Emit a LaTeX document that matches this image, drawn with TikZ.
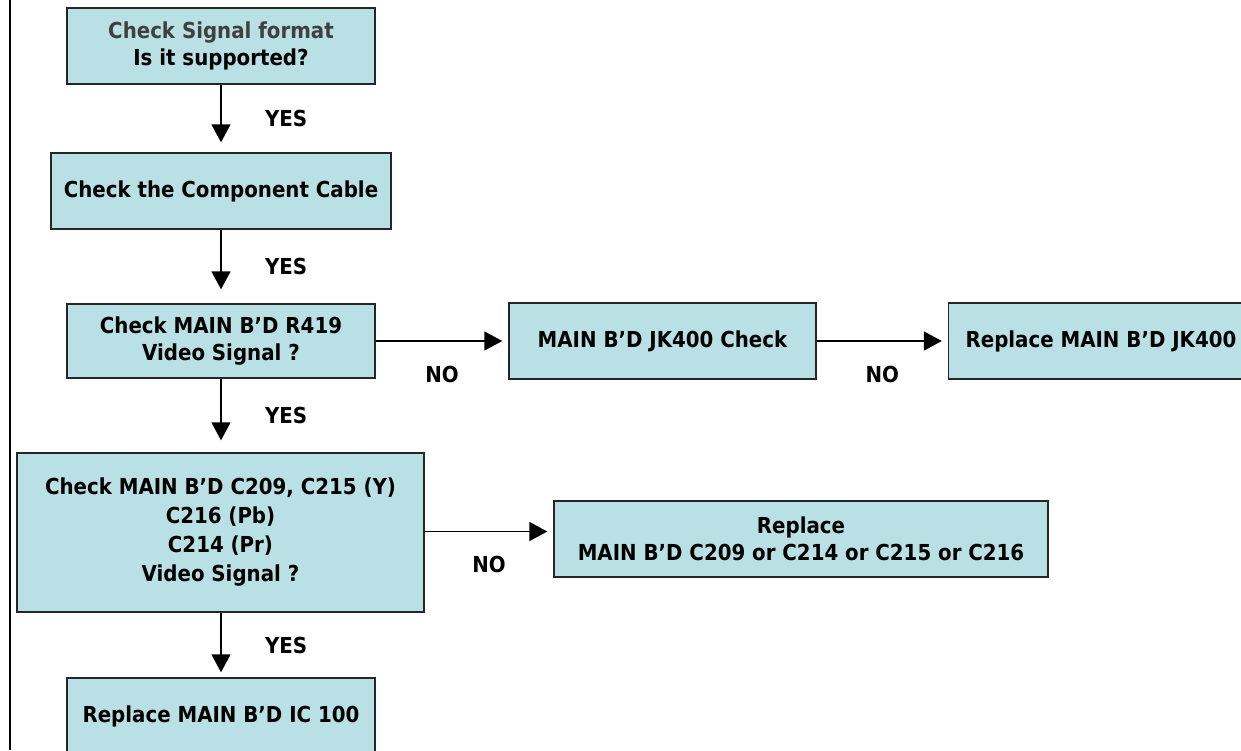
\documentclass[tikz,border=0pt]{standalone}
\usepackage{fontspec}
\setmainfont{DejaVu Sans Condensed}
\usetikzlibrary{arrows.meta,positioning}
\definecolor{boxfill}{RGB}{185,224,228}
\tikzset{
 flowbox/.style={draw=black!85,line width=1.4pt,fill=boxfill,align=center,inner sep=0pt,minimum height=76pt},
 flow/.style={->,line width=1.6pt},
 yes/.style={midway,right=40pt},
 no/.style={midway,below=21pt}
}
\begin{document}
\begin{tikzpicture}[x=1pt,y=-1pt,>={Triangle[length=18pt,width=19pt]},font=\fontsize{22}{27}\selectfont\bfseries]
 \useasboundingbox (0,0) rectangle (1241,750);
 \draw[line width=2pt] (10,0)--(10,750);
 \node[flowbox,minimum width=308pt] (fmt) at (221,46) {\textcolor{black!75}{Check Signal format}\\Is it supported?};
 \node[flowbox,minimum width=340pt] (cable) at (221,191) {Check the Component Cable};
 \node[flowbox,minimum width=308pt,minimum height=74pt] (r419) at (221,341) {Check MAIN B’D R419\\Video Signal ?};
 \node[flowbox,minimum width=307pt] (jkchk) at (662.5,341) {MAIN B’D JK400 Check};
 \node[flowbox,minimum width=305pt] (jkrep) at (1101,341) {Replace MAIN B’D JK400};
 \node[flowbox,minimum width=407pt,minimum height=159pt,font=\fontsize{22}{29}\selectfont\bfseries] (cchk) at (220.5,532.5) {Check MAIN B’D C209, C215 (Y)\\C216 (Pb)\\C214 (Pr)\\Video Signal ?};
 \node[flowbox,minimum width=494pt] (crep) at (801,539) {Replace\\MAIN B’D C209 or C214 or C215 or C216};
 \node[flowbox,minimum width=308pt] (ic) at (221,716) {Replace MAIN B’D IC 100};
 % yes path
 \draw[flow,shorten >=10pt] (fmt)--node[yes]{YES}(cable);
 \draw[flow,shorten >=14pt] (cable)--node[yes]{YES}(r419);
 \draw[flow,shorten >=12pt] (r419.south)--node[yes]{YES}(r419.south |- cchk.north);
 \draw[flow,shorten >=5pt] (ic.north |- cchk.south)--node[yes]{YES}(ic.north);
 % no path
 \draw[flow,shorten >=6pt] (r419)--node[no]{NO}(jkchk);
 \draw[flow,shorten >=6pt] (jkchk)--node[no]{NO}(jkrep);
 \draw[flow,shorten >=6pt] ([yshift=1pt]cchk.east)--node[no]{NO}([yshift=1pt]cchk.east -| crep.west);
\end{tikzpicture}
\end{document}
